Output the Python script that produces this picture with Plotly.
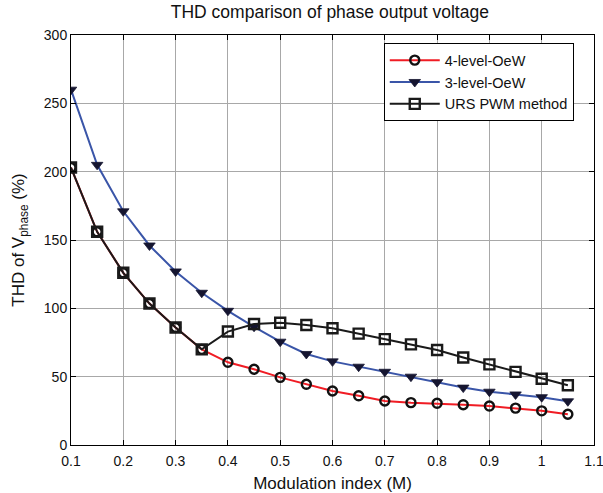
import plotly.graph_objects as go

m_index = [0.1, 0.15, 0.2, 0.25, 0.3, 0.35, 0.4, 0.45, 0.5, 0.55, 0.6, 0.65,
           0.7, 0.75, 0.8, 0.85, 0.9, 0.95, 1.0, 1.05]

thd_4level = [203, 156, 126, 103.5, 86, 70, 60.5, 55.4, 49.5, 44.4, 39.5, 36,
              32.2, 31, 30.5, 29.5, 28.5, 27, 25, 22.5]
thd_3level = [260, 205, 171, 146, 127, 111.4, 98.2, 86.5, 75.6, 66.6, 61.2, 57.3,
              53.6, 50, 46, 42, 39, 37, 35, 32]
thd_urs = [203, 156, 126, 103.5, 86, 70, 83, 88.5, 89.4, 87.8, 85.4, 81.5,
           77.5, 73.6, 69.5, 64, 59, 53.5, 48.5, 43.7]

x_tickvals = [0.1, 0.2, 0.3, 0.4, 0.5, 0.6, 0.7, 0.8, 0.9, 1.0, 1.1]
x_ticktext = ["0.1", "0.2", "0.3", "0.4", "0.5", "0.6", "0.7", "0.8", "0.9", "1", "1.1"]
y_tickvals = [0, 50, 100, 150, 200, 250, 300]

FONT = "Liberation Sans, Arial, sans-serif"

fig = go.Figure()
fig.add_trace(go.Scatter(
    x=m_index, y=thd_4level, name="4-level-OeW", mode="lines+markers",
    line=dict(color="#f01c24", width=2),
    marker=dict(symbol="circle-open", size=9, color="#111111", line=dict(width=2.4, color="#111111")),
))
fig.add_trace(go.Scatter(
    x=m_index, y=thd_3level, name="3-level-OeW", mode="lines+markers",
    line=dict(color="#3a55a8", width=2),
    marker=dict(symbol="triangle-down", size=10, color="#151530", line=dict(width=0.8, color="#151530")),
))
fig.add_trace(go.Scatter(
    x=m_index, y=thd_urs, name="URS PWM method", mode="lines+markers",
    line=dict(color="#1a1a1a", width=2),
    marker=dict(symbol="square-open", size=10, color="#1a1a1a", line=dict(width=2.4, color="#1a1a1a")),
))

axis_common = dict(
    showline=True, linecolor="black", linewidth=1, mirror="ticks",
    ticks="inside", ticklen=5, tickcolor="black", automargin=False,
    showgrid=True, gridcolor="#a8a8a8", gridwidth=1, zeroline=False,
    ticklabeloverflow="allow",
    tickfont=dict(family=FONT, size=14, color="#111111"),
)

fig.update_xaxes(range=[0.1, 1.1], tickvals=x_tickvals, ticktext=x_ticktext,
                 ticklabelstandoff=3,
                 title=dict(text="Modulation index (M)", standoff=9,
                            font=dict(family=FONT, size=17, color="#111111")),
                 **axis_common)
fig.update_yaxes(range=[0, 300], tickvals=y_tickvals,
                 title=dict(text="THD of V<sub>phase</sub> (%)", standoff=14,
                            font=dict(family=FONT, size=17, color="#111111")),
                 **axis_common)

fig.update_layout(
    width=603, height=493,
    margin=dict(l=71, r=9, t=35, b=48),
    paper_bgcolor="white", plot_bgcolor="white",
    title=dict(text="THD comparison of phase output voltage", x=0.547, xanchor="center",
               y=0.988, yanchor="top",
               font=dict(family=FONT, size=17.5, color="#111111")),
    legend=dict(x=0.598, y=0.98, xanchor="left", yanchor="top",
                bgcolor="white", bordercolor="black", borderwidth=1,
                itemwidth=50, tracegroupgap=0,
                font=dict(family=FONT, size=14.5, color="#111111")),
    showlegend=True,
)

fig.write_html("out.html")
